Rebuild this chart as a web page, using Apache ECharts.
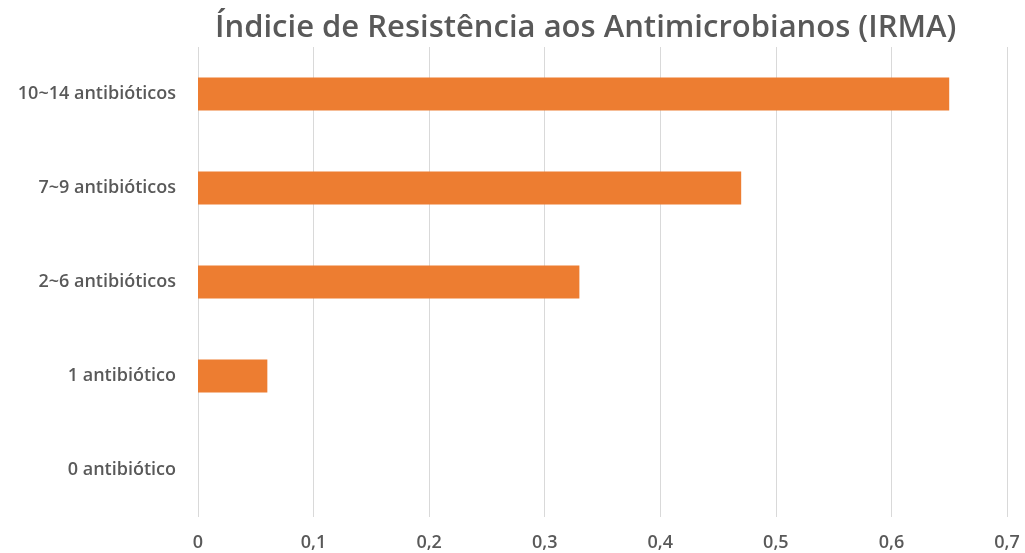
<!DOCTYPE html>
<html>
<head>
<meta charset="utf-8">
<script src="https://cdn.jsdelivr.net/npm/echarts@6/dist/echarts.min.js"></script>
<style>
  html, body { margin: 0; padding: 0; background: #fff; }
  #main { width: 1025px; height: 553px; }
</style>
</head>
<body>
<div id="main"></div>
<script>
// categories from bottom to top
const categories = ["0 antibiótico", "1 antibiótico", "2~6 antibióticos", "7~9 antibióticos", "10~14 antibióticos"];
const irmaValues = [0, 0.06, 0.33, 0.47, 0.65];
const xTicks = [0, 0.1, 0.2, 0.3, 0.4, 0.5, 0.6, 0.7];

let chartDom = document.getElementById("main");
let myChart = echarts.init(chartDom);

let option = {
  title: {
    text: "Índicie de Resistência aos Antimicrobianos (IRMA)",
    left: 210,
    top: 8,
    textStyle: {
      fontFamily: "Open Sans",
      fontSize: 31,
      fontWeight: 600,
      color: "#595959",
    },
  },
  grid: {
    left: 198,
    right: 18,
    top: 47,
    height: 470,
  },
  xAxis: {
    type: "value",
    min: xTicks[0],
    max: xTicks[xTicks.length - 1],
    interval: 0.1,
    axisLine: { show: false },
    axisTick: { show: false },
    splitLine: { lineStyle: { color: "#d9d9d9", width: 1 } },
    axisLabel: {
      margin: 17,
      fontFamily: "Open Sans",
      fontSize: 18,
      fontWeight: 600,
      color: "#595959",
      formatter: function (v) {
        return String(Math.round(v * 10) / 10).replace(".", ",");
      },
    },
  },
  yAxis: {
    type: "category",
    data: categories,
    axisLine: { show: false },
    axisTick: { show: false },
    axisLabel: {
      margin: 22,
      fontFamily: "Open Sans",
      fontSize: 18,
      fontWeight: 600,
      color: "#595959",
    },
  },
  series: [
    {
      type: "bar",
      data: irmaValues,
      barWidth: 33,
      itemStyle: { color: "#ed7d31" },
    },
  ],
};

option && myChart.setOption(option);
</script>
</body>
</html>
